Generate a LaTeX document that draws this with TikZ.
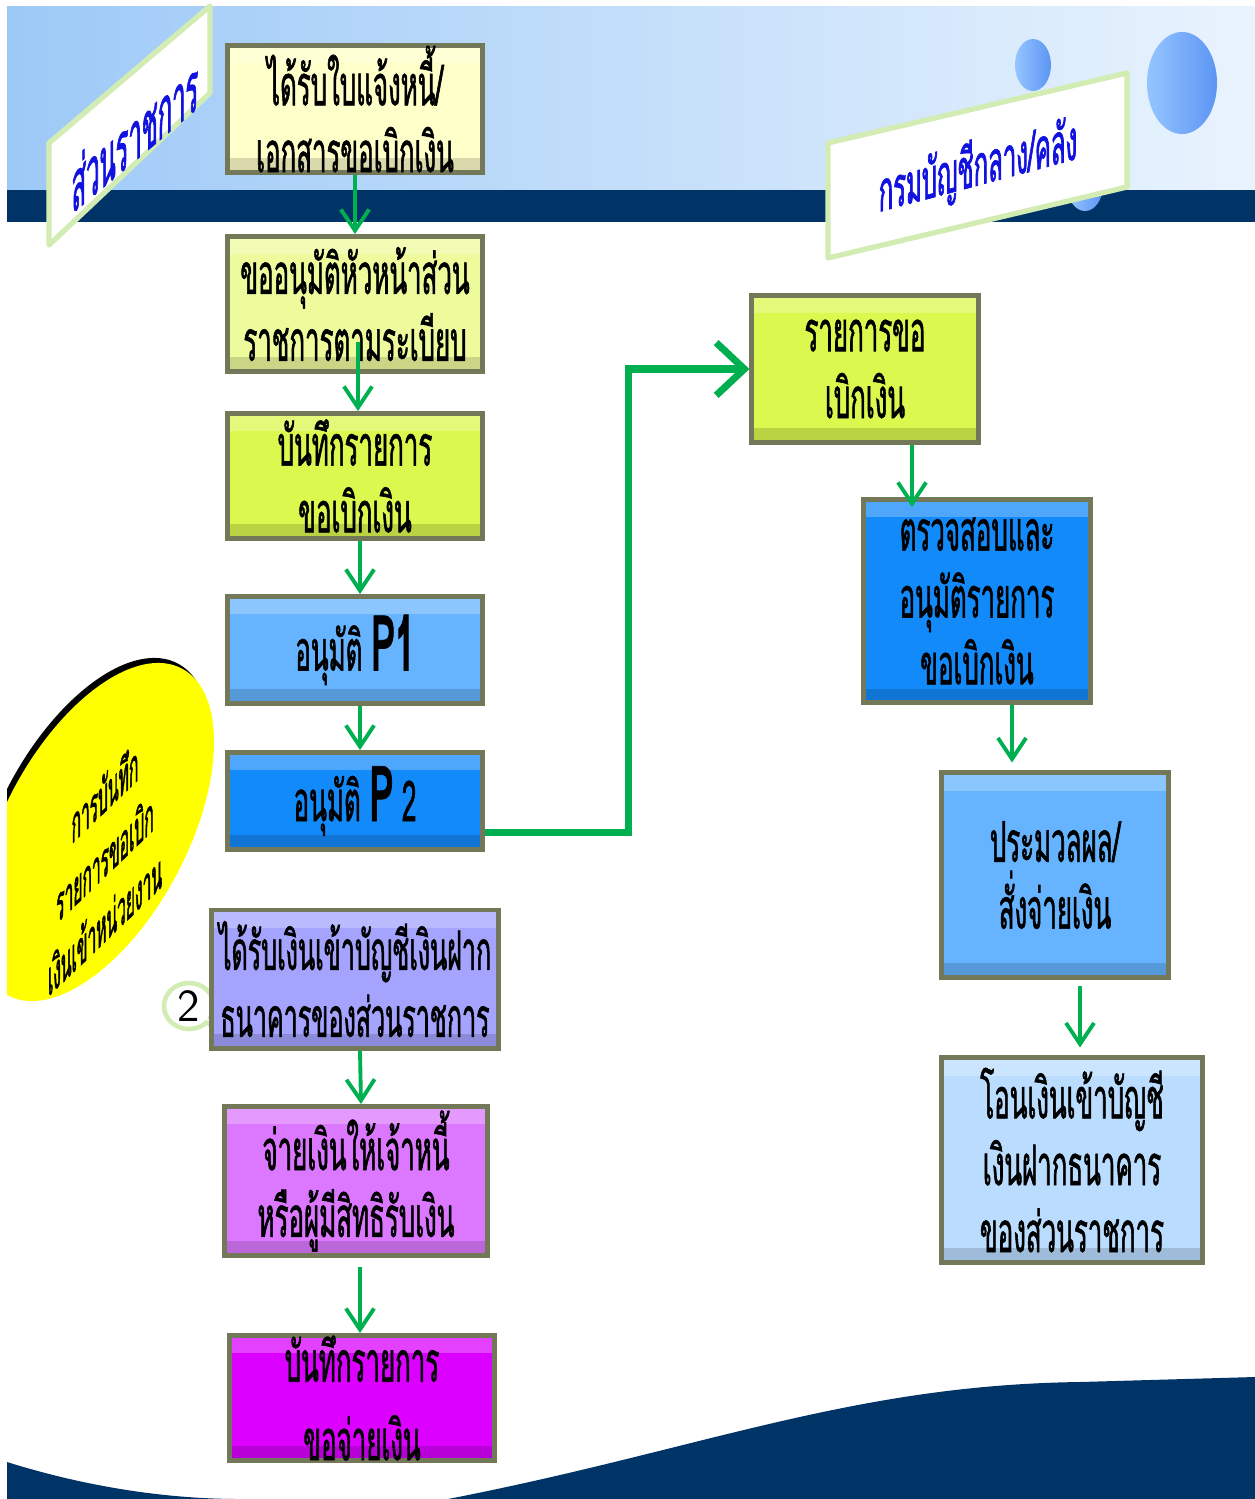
\documentclass[tikz,border=0pt]{standalone}
\usepackage{fontspec}
\newfontfamily\thai[Script=Thai,FakeStretch=0.46,FakeBold=1]{Loma}
\newfontfamily\thaisign[Script=Thai,FakeStretch=0.44,FakeBold=1.2]{Loma}
\usetikzlibrary{arrows.meta,positioning,shapes.callouts}
\definecolor{navy}{HTML}{003366}
\definecolor{bandl}{HTML}{9DC9F7}
\definecolor{bandr}{HTML}{E9F3FD}
\definecolor{ballhi}{HTML}{95C5FF}
\definecolor{balllo}{HTML}{5D95F4}
\definecolor{flowgreen}{HTML}{00B050}
\definecolor{bevel}{HTML}{737858}
\definecolor{rim}{HTML}{D3ECB4}
\definecolor{signblue}{HTML}{1111E0}
\definecolor{cream}{HTML}{FFFFC9}
\definecolor{paleleaf}{HTML}{EEFB9D}
\definecolor{leaf}{HTML}{DBF84E}
\definecolor{sky}{HTML}{66B4FF}
\definecolor{deepsky}{HTML}{138AFA}
\definecolor{icesky}{HTML}{BADDFF}
\definecolor{lilac}{HTML}{A4A4FF}
\definecolor{orchid}{HTML}{DC78FF}
\definecolor{grape}{HTML}{DB00FF}
\definecolor{sun}{HTML}{FFFF00}
\begin{document}
\begin{tikzpicture}[x=0.01cm,y=-0.01cm,
  stepbox/.style={draw=bevel,line width=1.4pt,inner sep=0pt,align=center,
    font=\thai\fontsize{16}{19}\selectfont,
    path picture={
      \fill[white,opacity=.25] (path picture bounding box.north west) rectangle ([yshift=-5pt]path picture bounding box.north east);
      \fill[black,opacity=.15] (path picture bounding box.south west) rectangle ([yshift=4pt]path picture bounding box.south east);}},
  flow/.style={draw=flowgreen,line width=1.1pt,-{Straight Barb[length=6pt,width=8pt]}},
  bigflow/.style={draw=flowgreen,line width=2pt,-{Straight Barb[length=8pt,width=15pt]}},
  sign/.style={fill=white,draw=rim,line width=1.5pt,line join=round},
  slanttext/.style={text=signblue,font=\thaisign\fontsize{#1}{#1}\selectfont}]
\useasboundingbox (0,0) rectangle (1255,1499);
% backdrop
\shade[left color=bandl,right color=bandr] (7,6) rectangle (1255,190);
\fill[navy] (7,190) rectangle (1255,222);
\fill[navy] (7,1462) .. controls (90,1488) and (170,1499) .. (240,1499) -- (7,1499) -- cycle;
\fill[navy] (448,1499) .. controls (700,1450) and (850,1385) .. (1080,1382) -- (1255,1377) -- (1255,1499) -- cycle;
\shade[left color=ballhi,right color=balllo] (1085,185) ellipse [x radius=0.18cm,y radius=0.26cm];
\shade[left color=ballhi,right color=balllo] (1033,65) ellipse [x radius=0.18cm,y radius=0.26cm];
\shade[left color=ballhi,right color=balllo] (1182,83) ellipse [x radius=0.35cm,y radius=0.51cm];
% sign boards
\filldraw[sign] (49,143) -- (210,6) -- (210,93) -- (49,245) -- cycle;
\node[slanttext=20,cm={0.766,0.643,0,1,(0,0)}] (unit) at (135,134) {ส่วนราชการ};
\filldraw[sign] (828,143) -- (1127,73) -- (1127,187) -- (828,258) -- cycle;
\node[slanttext=16,cm={0.966,0.259,0,1,(0,0)}] (dept) at (978,168) {กรมบัญชีกลาง/คลัง};
% yellow disc
\begin{scope}
\clip (7,600) rectangle (260,1050);
\fill[black,rotate around={62:(91,827)}] (91,827) ellipse [x radius=1.85cm,y radius=0.92cm];
\fill[sun,rotate around={62:(95,832)}] (95,832) ellipse [x radius=1.85cm,y radius=0.92cm];
\end{scope}
\node[cm={0.719,0.695,0,1,(0,0)},align=center,font=\thaisign\fontsize{14}{18.5}\selectfont] (memo) at (105,857) {การบันทึก\\รายการขอเบิก\\เงินเข้าหน่วยงาน};
% left column
\node[ellipse callout,draw=rim,line width=1.3pt,fill=white,minimum width=0.5cm,minimum height=0.46cm,inner sep=0pt,
  callout relative pointer={(0.3cm,-0.22cm)},font=\sffamily\fontsize{13}{13}\selectfont] (mark) at (189,1006) {2};
\node[stepbox,fill=cream,minimum width=2.55cm,minimum height=1.22cm] (bill) at (355,109) {ได้รับใบแจ้งหนี้/\\เอกสารขอเบิกเงิน};
\node[stepbox,fill=paleleaf,minimum width=2.55cm,minimum height=1.35cm] (ask) at (355,304) {ขออนุมัติหัวหน้าส่วน\\ราชการตามระเบียบ};
\node[stepbox,fill=leaf,minimum width=2.55cm,minimum height=1.25cm] (rec) at (355,476) {บันทึกรายการ\\ขอเบิกเงิน};
\node[stepbox,fill=sky,minimum width=2.55cm,minimum height=1.07cm] (pone) at (355,650) {อนุมัติ \textbf{\fontsize{22}{22}\selectfont P1}};
\node[stepbox,fill=deepsky,minimum width=2.55cm,minimum height=0.97cm] (ptwo) at (355,801) {อนุมัติ \textbf{\fontsize{22}{22}\selectfont P} 2};
\node[stepbox,fill=lilac,minimum width=2.87cm,minimum height=1.38cm,font=\thai\fontsize{15.5}{19}\selectfont] (bank) at (355,979) {ได้รับเงินเข้าบัญชีเงินฝาก\\ธนาคารของส่วนราชการ};
\node[stepbox,fill=orchid,minimum width=2.62cm,minimum height=1.49cm] (pay) at (356,1181) {จ่ายเงินให้เจ้าหนี้\\หรือผู้มีสิทธิรับเงิน};
\node[stepbox,fill=grape,minimum width=2.65cm,minimum height=1.23cm] (book) at (362,1398) {บันทึกรายการ\\[0.4ex]ขอจ่ายเงิน};
% right column
\node[stepbox,fill=leaf,minimum width=2.26cm,minimum height=1.47cm] (list) at (865,369) {รายการขอ\\เบิกเงิน};
\node[stepbox,fill=deepsky,minimum width=2.26cm,minimum height=2.03cm] (check) at (977,601) {ตรวจสอบและ\\อนุมัติรายการ\\ขอเบิกเงิน};
\node[stepbox,fill=sky,minimum width=2.26cm,minimum height=2.04cm] (process) at (1055,875) {ประมวลผล/\\สั่งจ่ายเงิน};
\node[stepbox,fill=icesky,minimum width=2.6cm,minimum height=2.04cm] (transfer) at (1072,1160) {โอนเงินเข้าบัญชี\\เงินฝากธนาคาร\\ของส่วนราชการ};
% arrows
\draw[flow] (bill) -- (ask);
\draw[flow] ([xshift=0.03cm,yshift=0.32cm]ask.south) -- ([xshift=0.03cm]rec.north);
\draw[flow] ([xshift=0.05cm]rec.south) -- ([xshift=0.05cm]pone.north);
\draw[flow] ([xshift=0.05cm]pone.south) -- ([xshift=0.05cm]ptwo.north);
\draw[flow] ([xshift=0.05cm]bank.south) -- ([xshift=0.05cm]pay.north);
\draw[flow,shorten <=0.09cm] ([xshift=0.04cm]pay.south) -- ([xshift=-0.02cm]book.north);
\draw[bigflow] ([yshift=-0.31cm]ptwo.east) -- ++(143,0) |- (list.west);
\draw[flow] (list.south -| 912,0) -- ([yshift=-0.1cm]check.north -| 912,0);
\draw[flow,shorten >=0.08cm] (check.south -| 1012,0) -- (process.north -| 1012,0);
\draw[flow,shorten <=0.06cm,shorten >=0.08cm] (process.south -| 1080,0) -- (transfer.north -| 1080,0);
\end{tikzpicture}
\end{document}
